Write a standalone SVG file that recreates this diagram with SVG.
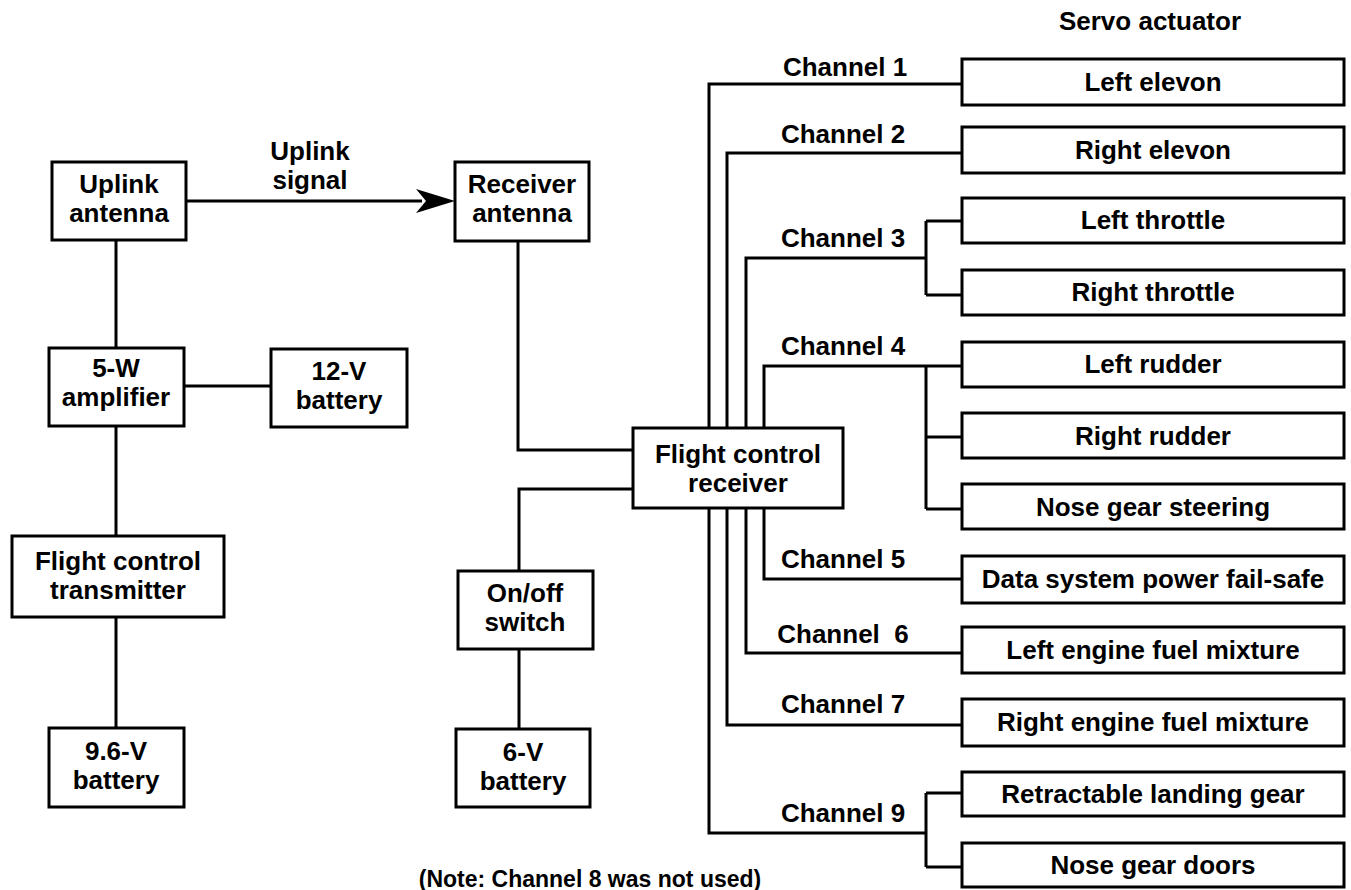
<svg xmlns="http://www.w3.org/2000/svg" width="1351" height="890" viewBox="0 0 1351 890">
<style>
.b{fill:#fff;stroke:#000;stroke-width:3}
.t{font-family:"Liberation Sans",Arial,sans-serif;font-weight:bold;font-size:26px;fill:#000;text-anchor:middle}
.c{fill:none;stroke:#000;stroke-width:3}
</style>
<rect width="1351" height="890" fill="#fff"/>
<g id="connectors">
<path class="c" d="M186 201H422"/>
<polygon points="455,201 416,189 426,201 416,213" fill="#000"/>
<path class="c" d="M116 240V348M184 386H271M116 426V536M116 617V728"/>
<path class="c" d="M518 241V450H633M633 489H519V571M519 649V729"/>
<path class="c" d="M709 428V84H962M727 428V153H962M746 428V258H926M926 221V295M926 221H962M926 295H962"/>
<path class="c" d="M764 428V366H962M926 366V509M926 437H962M926 509H962"/>
<path class="c" d="M764 508V579H962M746 508V653H962M727 508V725H962M709 508V833H926M926 793V867M926 793H962M926 867H962"/>
</g>
<text class="t" x="310" y="160">Uplink</text>
<text class="t" x="310" y="189">signal</text>
<text class="t" x="1150" y="30">Servo actuator</text>
<text class="t" x="845" y="76">Channel 1</text>
<text class="t" x="843" y="143">Channel 2</text>
<text class="t" x="843" y="247">Channel 3</text>
<text class="t" x="843" y="355">Channel 4</text>
<text class="t" x="843" y="568">Channel 5</text>
<text class="t" x="843" y="643" xml:space="preserve">Channel  6</text>
<text class="t" x="843" y="713">Channel 7</text>
<text class="t" x="843" y="822">Channel 9</text>
<text class="t" x="590" y="887" style="font-size:23px">(Note: Channel 8 was not used)</text>
<g id="uplink-antenna"><rect class="b" x="52" y="162" width="134" height="78"/><text class="t" x="119" y="193">Uplink</text><text class="t" x="119" y="222">antenna</text></g>
<g id="amplifier"><rect class="b" x="49" y="348" width="135" height="78"/><text class="t" x="116" y="377">5-W</text><text class="t" x="116" y="406">amplifier</text></g>
<g id="battery-12v"><rect class="b" x="271" y="349" width="136" height="78"/><text class="t" x="339" y="380">12-V</text><text class="t" x="339" y="409">battery</text></g>
<g id="transmitter"><rect class="b" x="12" y="536" width="212" height="81"/><text class="t" x="118" y="570">Flight control</text><text class="t" x="118" y="599">transmitter</text></g>
<g id="battery-96v"><rect class="b" x="49" y="728" width="135" height="79"/><text class="t" x="116" y="760">9.6-V</text><text class="t" x="116" y="789">battery</text></g>
<g id="receiver-antenna"><rect class="b" x="455" y="162" width="134" height="79"/><text class="t" x="522" y="193">Receiver</text><text class="t" x="522" y="222">antenna</text></g>
<g id="receiver"><rect class="b" x="633" y="428" width="210" height="80"/><text class="t" x="738" y="463">Flight control</text><text class="t" x="738" y="492">receiver</text></g>
<g id="switch"><rect class="b" x="458" y="571" width="135" height="78"/><text class="t" x="525" y="602">On/off</text><text class="t" x="525" y="631">switch</text></g>
<g id="battery-6v"><rect class="b" x="456" y="729" width="134" height="78"/><text class="t" x="523" y="761">6-V</text><text class="t" x="523" y="790">battery</text></g>
<g id="left-elevon"><rect class="b" x="962" y="59" width="382" height="46"/><text class="t" x="1153" y="91">Left elevon</text></g>
<g id="right-elevon"><rect class="b" x="962" y="127" width="382" height="46"/><text class="t" x="1153" y="159">Right elevon</text></g>
<g id="left-throttle"><rect class="b" x="962" y="198" width="382" height="45"/><text class="t" x="1153" y="229">Left throttle</text></g>
<g id="right-throttle"><rect class="b" x="962" y="270" width="382" height="45"/><text class="t" x="1153" y="301">Right throttle</text></g>
<g id="left-rudder"><rect class="b" x="962" y="342" width="382" height="45"/><text class="t" x="1153" y="373">Left rudder</text></g>
<g id="right-rudder"><rect class="b" x="962" y="413" width="382" height="45"/><text class="t" x="1153" y="445">Right rudder</text></g>
<g id="nose-gear-steering"><rect class="b" x="962" y="484" width="382" height="45"/><text class="t" x="1153" y="516">Nose gear steering</text></g>
<g id="data-system"><rect class="b" x="962" y="556" width="382" height="47"/><text class="t" x="1153" y="588">Data system power fail-safe</text></g>
<g id="left-engine"><rect class="b" x="962" y="627" width="382" height="46"/><text class="t" x="1153" y="659">Left engine fuel mixture</text></g>
<g id="right-engine"><rect class="b" x="962" y="699" width="382" height="47"/><text class="t" x="1153" y="731">Right engine fuel mixture</text></g>
<g id="landing-gear"><rect class="b" x="962" y="772" width="382" height="44"/><text class="t" x="1153" y="803">Retractable landing gear</text></g>
<g id="nose-gear-doors"><rect class="b" x="962" y="843" width="382" height="44"/><text class="t" x="1153" y="874">Nose gear doors</text></g>
</svg>
